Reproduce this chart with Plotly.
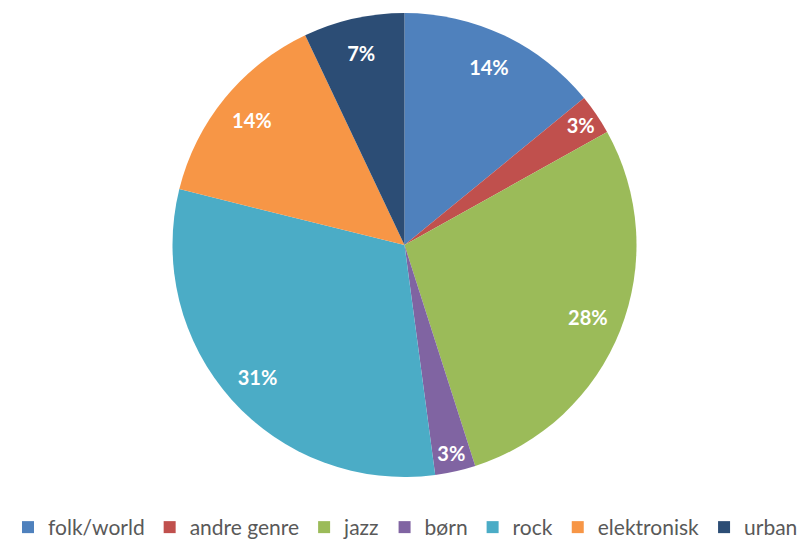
import plotly.graph_objects as go

genres = ["folk/world", "andre genre", "jazz", "børn", "rock", "elektronisk", "urban"]
counts = [10, 2, 20, 2, 22, 10, 5]
colors = ["#4F81BD", "#C0504D", "#9BBB59", "#8064A2", "#4BACC6", "#F79646", "#2C4D75"]

dom = dict(x=[0, 1], y=[0, 1])

fig = go.Figure()
# coloured slices + legend
fig.add_trace(go.Pie(
    labels=genres,
    values=counts,
    sort=False,
    direction="clockwise",
    rotation=0,
    domain=dom,
    marker=dict(colors=colors, line=dict(width=0)),
    textinfo="none",
    hoverinfo="label+percent",
))
# transparent ring carrying the percentage labels near the rim (like Excel)
fig.add_trace(go.Pie(
    labels=genres,
    values=counts,
    sort=False,
    direction="clockwise",
    rotation=0,
    domain=dom,
    hole=0.7,
    showlegend=False,
    marker=dict(colors=["rgba(0,0,0,0)"] * len(genres), line=dict(width=0)),
    texttemplate="%{percent:.0%}",
    textposition="inside",
    insidetextorientation="horizontal",
    textfont=dict(family="Lato", size=20, color="white", weight="bold"),
    hoverinfo="skip",
))

fig.update_layout(
    width=809, height=540,
    margin=dict(l=0, r=16, t=5, b=71, autoexpand=False),
    paper_bgcolor="white",
    plot_bgcolor="white",
    showlegend=True,
    legend=dict(
        orientation="h",
        x=0.0, xanchor="left", xref="container",
        y=0.038, yanchor="middle", yref="container",
        font=dict(family="Lato", size=21, color="#595959"),
        itemsizing="constant",
        traceorder="normal",
        borderwidth=0,
    ),
)

fig.write_html("out.html")
